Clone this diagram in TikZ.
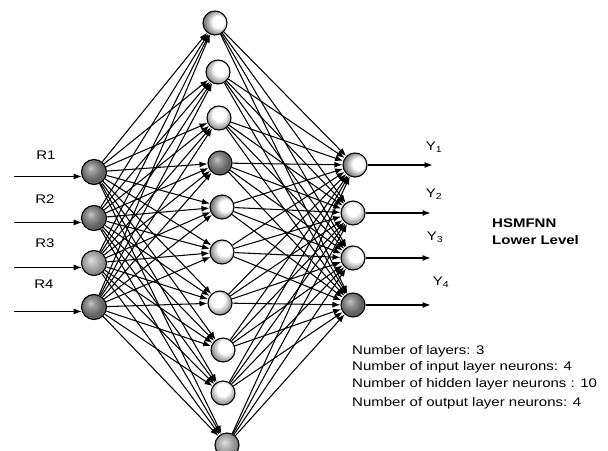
\documentclass[tikz,border=0pt]{standalone}
\usepackage{fontspec}
\setmainfont{Liberation Sans}[FakeStretch=1.2]
\usetikzlibrary{arrows.meta}

% sphere-like fills for the neurons: white with a grey side, or grey all over
\pgfdeclareradialshading{shL}{\pgfpoint{9bp}{3bp}}{color(0bp)=(white); color(12bp)=(white); color(28bp)=(black!55); color(60bp)=(black!55)}
\pgfdeclareradialshading{shR}{\pgfpoint{-9bp}{3bp}}{color(0bp)=(white); color(12bp)=(white); color(28bp)=(black!55); color(60bp)=(black!55)}
\pgfdeclareradialshading{shB}{\pgfpoint{0bp}{9bp}}{color(0bp)=(white); color(13bp)=(white); color(30bp)=(black!50); color(60bp)=(black!50)}
\pgfdeclareradialshading{shBR}{\pgfpoint{-7bp}{8bp}}{color(0bp)=(white); color(14bp)=(white); color(30bp)=(black!50); color(60bp)=(black!50)}
\pgfdeclareradialshading{shBL}{\pgfpoint{7bp}{8bp}}{color(0bp)=(white); color(14bp)=(white); color(30bp)=(black!50); color(60bp)=(black!50)}
\pgfdeclareradialshading{shDark}{\pgfpoint{-7bp}{8bp}}{color(0bp)=(black!22); color(8bp)=(black!40); color(22bp)=(black!62); color(60bp)=(black!62)}
\pgfdeclareradialshading{shMid}{\pgfpoint{-6bp}{6bp}}{color(0bp)=(black!12); color(10bp)=(black!28); color(26bp)=(black!50); color(60bp)=(black!50)}

\begin{document}
\begin{tikzpicture}[x=1pt,y=-1pt,
  neuron/.style={circle,draw,line width=1.1pt,minimum size=24pt,inner sep=0pt},
  conn/.style={line width=1.05pt,-{Latex[length=8pt,width=6pt]}},
  txt/.style={font=\fontsize{12.5}{14}\selectfont,inner sep=0pt},
  btxt/.style={font=\fontsize{12.5}{14}\selectfont\bfseries,inner sep=0pt,anchor=base west}]
\useasboundingbox (0,0) rectangle (608,450);

% input layer
\node[neuron,shading=shDark,minimum size=25pt] (i1) at (94,172) {};
\node[neuron,shading=shDark,minimum size=25pt] (i2) at (94,218) {};
\node[neuron,shading=shMid,minimum size=25pt] (i3) at (94,263) {};
\node[neuron,shading=shDark,minimum size=25pt] (i4) at (94,307) {};

% hidden layer
\node[neuron,shading=shL] (h1) at (215,23) {};
\node[neuron,shading=shBL] (h2) at (218,72) {};
\node[neuron,shading=shB] (h3) at (219,118) {};
\node[neuron,shading=shDark] (h4) at (220,163) {};
\node[neuron,shading=shL] (h5) at (222,207) {};
\node[neuron,shading=shBL] (h6) at (222,252) {};
\node[neuron,shading=shBR] (h7) at (220,303) {};
\node[neuron,shading=shBL] (h8) at (223,350) {};
\node[neuron,shading=shB] (h9) at (223,393) {};
\node[neuron,shading=shMid] (h10) at (227,445) {};

% output layer
\node[neuron,shading=shL] (o1) at (355,165) {};
\node[neuron,shading=shB] (o2) at (353,213) {};
\node[neuron,shading=shBL] (o3) at (353,258) {};
\node[neuron,shading=shDark] (o4) at (353,305) {};

% full connections
\foreach \i in {1,...,4}
  \foreach \h in {1,...,10}
    \draw[conn] (i\i) -- (h\h);
\foreach \h in {1,...,10}
  \foreach \o in {1,...,4}
    \draw[conn] (h\h) -- (o\o);

% external inputs
\foreach \i in {1,...,4} {
  \path (i\i.200) ++(-68,0) coordinate (r\i s);
  \draw[conn] (r\i s) -- (i\i.200);
}
\node[txt] (lr1) at (46,155) {R1};
\node[txt] (lr2) at (45,199) {R2};
\node[txt] (lr3) at (45,243) {R3};
\node[txt] (lr4) at (44,284) {R4};

% outputs
\foreach \o in {1,...,4} {
  \path (o\o.east) ++(65,0) coordinate (y\o e);
  \draw[conn] (o\o) -- (y\o e);
}
\node[txt] (ly1) at (434,147) {Y\textsubscript{1}};
\node[txt] (ly2) at (434,194) {Y\textsubscript{2}};
\node[txt] (ly3) at (435,237) {Y\textsubscript{3}};
\node[txt] (ly4) at (441,282) {Y\textsubscript{4}};

% title
\node[btxt] (t1) at (492,227) {HSMFNN};
\node[btxt] (t2) at (492,244) {Lower Level};

% summary
\node[txt,anchor=base west] (s1) at (352,354) {Number of layers: 3};
\node[txt,anchor=base west] (s2) at (352,370) {Number of input layer neurons: 4};
\node[txt,anchor=base west] (s3) at (352,387) {Number of hidden layer neurons : 10};
\node[txt,anchor=base west] (s4) at (352,406) {Number of output layer neurons: 4};
\end{tikzpicture}
\end{document}
